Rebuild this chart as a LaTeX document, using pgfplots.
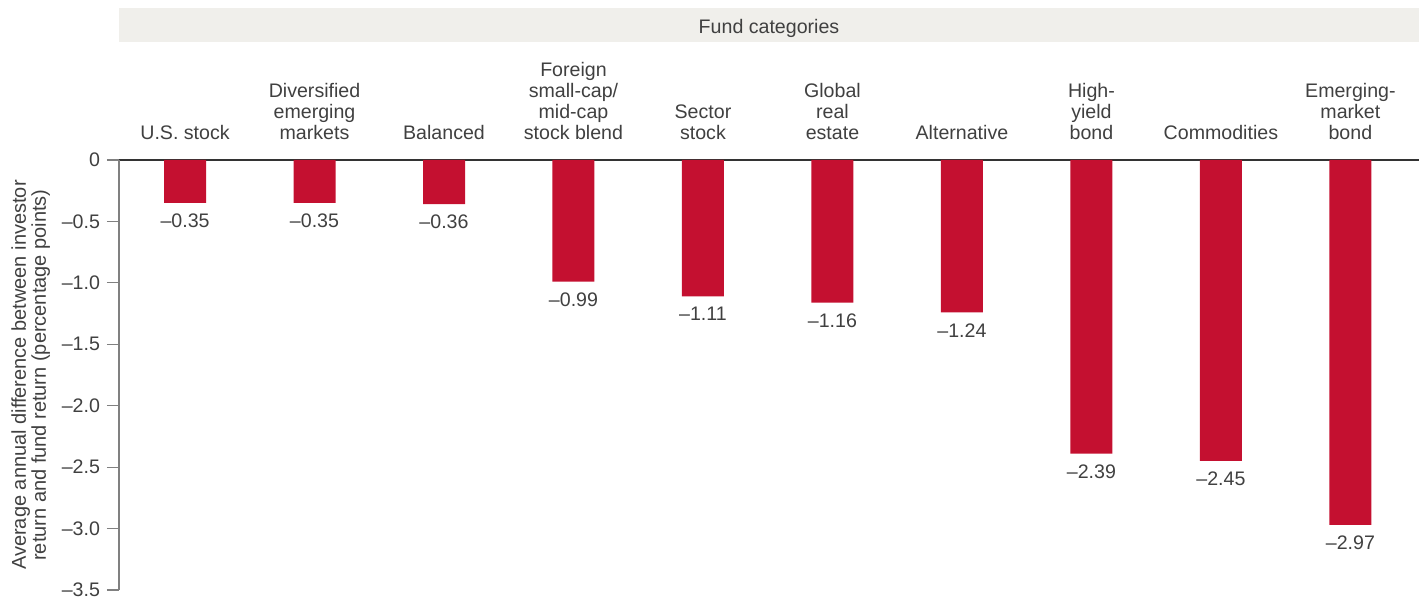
\documentclass[border=0pt]{standalone}
\usepackage{fontspec}
\setmainfont{Liberation Sans}
\usepackage{pgfplots}
\pgfplotsset{compat=1.18}
\definecolor{barred}{RGB}{196,16,48}
\definecolor{txt}{RGB}{64,64,64}
\definecolor{banner}{RGB}{240,239,235}
\begin{document}
\begin{tikzpicture}
\begin{axis}[
  scale only axis,
  width=650pt, height=215pt,
  ybar, bar width=21pt,
  xmin=-0.51, xmax=9.53,
  ymin=-3.5, ymax=0,
  axis x line*=top, axis y line*=left,
  x axis line style={draw=black!80, line width=0.6pt},
  y axis line style={draw=black!50, line width=0.6pt},
  xtick={0,...,9},
  xticklabels={{U.S. stock},{Diversified\\emerging\\markets},{Balanced},{Foreign\\small-cap/\\mid-cap\\stock blend},{Sector\\stock},{Global\\real\\estate},{Alternative},{High-\\yield\\bond},{Commodities},{Emerging-\\market\\bond}},
  xtick style={draw=none},
  xticklabel style={align=center, font=\fontsize{9.8}{10.5}\selectfont, text=txt, anchor=south, yshift=0.5pt},
  ytick={-3.5,-3,...,0},
  yticklabels={–3.5,–3.0,–2.5,–2.0,–1.5,–1.0,–0.5,0},
  yticklabel style={font=\fontsize{9.8}{10.5}\selectfont, text=txt},
  ytick style={draw=black!50, line width=0.6pt},
  tick align=outside, major tick length=6pt,
  ylabel={Average annual difference between investor\\return and fund return (percentage points)},
  ylabel style={align=center, font=\fontsize{10}{10}\selectfont, text=txt, at={([xshift=-31pt]axis description cs:0,0.5)}, anchor=south},
  point meta=explicit symbolic,
  nodes near coords,
  every node near coord/.append style={font=\fontsize{9.8}{10.5}\selectfont, text=txt, anchor=north, yshift=-2pt},
  clip=false,
]
\addplot[fill=barred, draw=none] coordinates {
  (0,-0.35) [–0.35]
  (1,-0.35) [–0.35]
  (2,-0.36) [–0.36]
  (3,-0.99) [–0.99]
  (4,-1.11) [–1.11]
  (5,-1.16) [–1.16]
  (6,-1.24) [–1.24]
  (7,-2.39) [–2.39]
  (8,-2.45) [–2.45]
  (9,-2.97) [–2.97]
};
\coordinate (bl) at (rel axis cs:0,0);
\coordinate (tr) at (rel axis cs:1,1);
\fill[banner] ([yshift=59pt]rel axis cs:0,1) rectangle ([yshift=76pt]rel axis cs:1,1);
\node[font=\fontsize{9.8}{10.5}\selectfont, text=txt] at ([yshift=66pt]rel axis cs:0.5,1) {Fund categories};
\end{axis}
\pgfresetboundingbox
\path ([xshift=-59.5pt, yshift=-4pt]bl) rectangle ([yshift=80pt]tr);
\end{tikzpicture}
\end{document}
